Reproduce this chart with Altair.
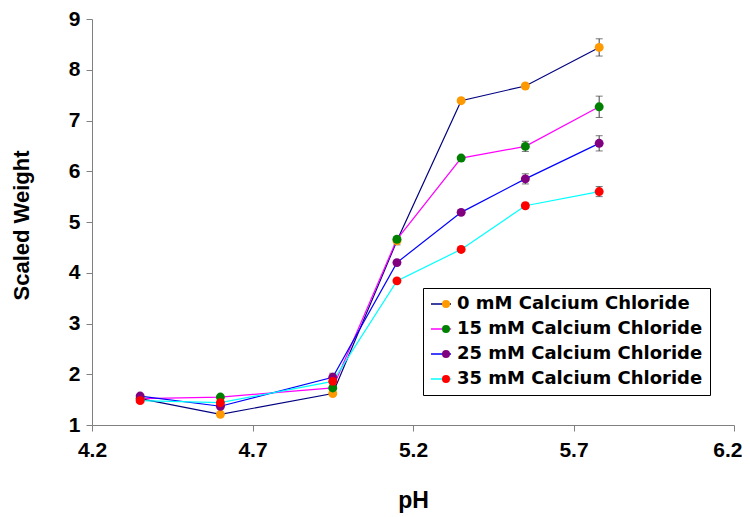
import altair as alt
import pandas as pd

series = ["0 mM Calcium Chloride", "15 mM Calcium Chloride",
          "25 mM Calcium Chloride", "35 mM Calcium Chloride"]
ph = [4.35, 4.6, 4.95, 5.15, 5.35, 5.55, 5.78]
w0 = [1.52, 1.21, 1.62, 4.63, 7.39, 7.68, 8.44]
w15 = [1.52, 1.55, 1.73, 4.66, 6.26, 6.49, 7.27]
w25 = [1.57, 1.37, 1.94, 4.20, 5.19, 5.85, 6.55]
w35 = [1.48, 1.44, 1.86, 3.84, 4.46, 5.32, 5.60]
e0 = [0.03, 0.03, 0.03, 0.08, 0.03, 0.05, 0.17]
e15 = [0.02, 0.02, 0.03, 0.03, 0.03, 0.10, 0.21]
e25 = [0.03, 0.03, 0.08, 0.03, 0.03, 0.10, 0.15]
e35 = [0.03, 0.03, 0.03, 0.03, 0.03, 0.05, 0.10]
line_colors = ["#000080", "#FF00FF", "#0000FF", "#00FFFF"]
marker_colors = ["#FF9900", "#008000", "#800080", "#FF0000"]
x_ticks = [4.2, 4.7, 5.2, 5.7, 6.2]
y_ticks = [1, 2, 3, 4, 5, 6, 7, 8, 9]

# line legend uses its own (space-suffixed) labels so the two legends stay separate
series_line = [s + " " for s in series]

rows = []
for s, sl, ws, es in zip(series, series_line, [w0, w15, w25, w35], [e0, e15, e25, e35]):
    for p, w, e in zip(ph, ws, es):
        rows.append({"series": s, "series_l": sl, "pH": p, "w": w,
                     "lo": w - e, "hi": w + e})
df = pd.DataFrame(rows)

xenc = alt.X("pH:Q", scale=alt.Scale(domain=[4.2, 6.2], nice=False, zero=False),
             axis=alt.Axis(values=x_ticks, format=".1f", title="pH",
                           titleY=82, titleBaseline="alphabetic",
                           labelPadding=8, labelFlush=False,
                           labelAlign={"condition": {"test": "datum.value >= 6.19",
                                                     "value": "right"},
                                       "value": "center"},
                           labelOffset={"condition": {"test": "datum.value >= 6.19",
                                                      "value": 8},
                                        "value": 0}))
yenc = alt.Y("w:Q", scale=alt.Scale(domain=[1, 9], nice=False, zero=False),
             axis=alt.Axis(values=y_ticks, title="Scaled Weight",
                           titleX=-64, titleY=206, titleAngle=-90,
                           titleFontSize=22,
                           titleAlign="center", titleBaseline="alphabetic",
                           labelPadding=6, labelFlush=False))

leg_common = dict(orient="none", title=None, labelFont="DejaVu Sans",
                  labelFontSize=18, labelFontWeight="bold", labelColor="black",
                  labelLimit=500, labelOffset=5, padding=7,
                  clipHeight=18, rowPadding=7)

lines = alt.Chart(df).mark_line(strokeWidth=1.2).encode(
    x=xenc, y=yenc,
    stroke=alt.Stroke("series_l:N",
                      scale=alt.Scale(domain=series_line, range=line_colors),
                      legend=alt.Legend(legendX=331, legendY=269,
                                        symbolType="stroke", symbolSize=400,
                                        symbolStrokeWidth=1.5,
                                        strokeColor="black",
                                        **leg_common)),
    order=alt.Order("pH:Q"),
)

err = alt.Chart(df).mark_rule(color="#404040", strokeWidth=1).encode(
    x="pH:Q", y="lo:Q", y2="hi:Q")
cap_lo = alt.Chart(df).mark_tick(color="#404040", size=7, thickness=1,
                                 orient="horizontal").encode(x="pH:Q", y="lo:Q")
cap_hi = alt.Chart(df).mark_tick(color="#404040", size=7, thickness=1,
                                 orient="horizontal").encode(x="pH:Q", y="hi:Q")

points = alt.Chart(df).mark_circle(size=80, opacity=1).encode(
    x="pH:Q", y="w:Q",
    fill=alt.Fill("series:N",
                  scale=alt.Scale(domain=series, range=marker_colors),
                  legend=alt.Legend(legendX=338, legendY=269,
                                    symbolType="circle", symbolSize=64,
                                    symbolStrokeWidth=0, symbolOpacity=1,
                                    labelExpr="''",
                                    **leg_common)),
)

chart = alt.layer(lines, err, cap_lo, cap_hi, points).properties(
    width=642, height=406,
    autosize=alt.AutoSizeParams(type="none"),
    padding={"left": 84, "top": 11, "right": 8, "bottom": 92},
).configure_view(stroke=None).configure_axis(
    grid=False, domainColor="#808080", tickColor="#808080", tickSize=6,
    labelFont="Liberation Sans", labelFontSize=21, labelFontWeight="bold",
    labelColor="black", titleFont="Liberation Sans", titleFontSize=23,
    titleFontWeight="bold", titleColor="black",
)

chart.save("out.html", embed_options={"renderer": "svg", "actions": False})
